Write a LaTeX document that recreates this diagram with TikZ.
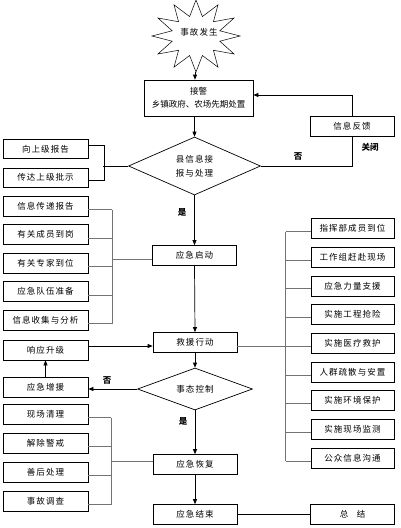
\documentclass[tikz,border=0pt]{standalone}
\usepackage{fontspec}
\newfontfamily\cjk{Noto Sans CJK SC}
\newfontfamily\cjkw[LetterSpace=12]{Noto Sans CJK SC}
\usetikzlibrary{shapes.geometric,arrows.meta}

\tikzset{
  box/.style={draw, minimum width=84pt, minimum height=20pt, inner sep=1pt,
    font=\cjkw\fontsize{8.5}{13}\selectfont},
  dia/.style={draw, diamond, inner sep=0pt, aspect=2.3,
    font=\cjkw\fontsize{8.5}{14}\selectfont},
  arr/.style={-{Triangle[length=5pt,width=4pt]}},
  bus/.style={draw=black!55, line width=1pt},
  lab/.style={font=\cjk\bfseries\fontsize{8.5}{10}\selectfont}
}

\begin{document}
\begin{tikzpicture}[x=1pt, y=-1pt, line width=0.7pt]
  \useasboundingbox (0,0) rectangle (401,528);

  % star: accident
  \draw[line width=0.5pt] (196,72)
    \foreach \k [evaluate=\k as \r using {mod(\k,2)==0 ? 1 : 0.56}] in {1,...,23}
      { -- ({196+44*\r*cos(90+15*\k)}, {36+36*\r*sin(90+15*\k)}) } -- cycle;
  \node[font=\cjkw\fontsize{8.5}{10}\selectfont] (sg) at (199,32) {事故发生};
  \coordinate (sgb) at (195,72);

  % main column
  \node[box, minimum width=109pt, minimum height=36pt, align=center,
    font=\cjk\fontsize{8.5}{13}\selectfont] (jj) at (198.5,98)
    {接警\\乡镇政府、农场先期处置};
  \node[dia, minimum width=132pt, minimum height=58pt, align=center] (xx) at (194.5,166)
    {县信息接\\报与处理};
  \node[box] (qd) at (194.5,255.5) {应急启动};
  \node[box] (jy) at (195,342.5) {救援行动};
  \node[dia, minimum width=115pt, minimum height=42pt] (tk) at (195,389) {事态控制};
  \node[box] (hf) at (195,464.5) {应急恢复};
  \node[box] (js) at (195,514.5) {应急结束};
  \node[box] (zj) at (352.5,514.5) {总\quad 结};
  \node[box] (fk) at (352,126.5) {信息反馈};

  % left boxes
  \node[box, minimum width=85pt, minimum height=19pt] (a1) at (45.5,149) {向上级报告};
  \node[box, minimum width=85pt, minimum height=19pt] (a2) at (45.5,177.5) {传达上级批示};
  \foreach \t [count=\i] in {信息传递报告,有关成员到岗,有关专家到位,应急队伍准备,信息收集与分析}
    \node[box, minimum width=85pt] (b\i) at (45.5,{206+28.5*(\i-1)}) {\t};
  \node[box, minimum width=85pt] (sj) at (45.5,350) {响应升级};
  \node[box, minimum width=85pt] (zy) at (45.5,387) {应急增援};
  \foreach \t [count=\i] in {现场清理,解除警戒,善后处理,事故调查}
    \node[box, minimum width=85pt] (c\i) at (45.5,{414+29*(\i-1)}) {\t};

  % right boxes
  \foreach \t [count=\i] in {指挥部成员到位,工作组赶赴现场,应急力量支援,实施工程抢险,实施医疗救护,人群疏散与安置,实施环境保护,实施现场监测,公众信息沟通}
    \node[box, minimum width=83pt] (r\i) at (352.5,{228.5+28.7*(\i-1)}) {\t};

  % labels
  \node[lab] (l1) at (298,156) {否};
  \node[lab] (l2) at (370,147) {关闭};
  \node[lab] (l3) at (182,212) {是};
  \node[lab] (l4) at (107,380) {否};
  \node[lab] (l5) at (183,421) {是};

  % arrows of the main column
  \draw[arr] (sgb) -- (sgb |- jj.north);
  \draw[arr] (jj.south -| xx.north) -- (xx.north);
  \draw[arr] (xx.south) -- (qd.north);
  \draw[arr] (qd.south) -- (jy.north);
  \draw[arr] (jy.south) -- (tk.north);
  \draw[arr] (tk.south) -- (hf.north);
  \draw[arr] (hf.south) -- (js.north);
  \draw (js.east) -- (zj.west);

  % feedback loop
  \draw (xx.east) -| (fk.south);
  \draw[arr] (fk.north) |- ([yshift=3pt]jj.east);

  % escalation
  \draw[arr] (tk.west) -- (tk.west -| zy.east);
  \draw[arr] (zy.north) -- (sj.south);
  \coordinate (sjo) at ([yshift=-3.5pt]jy.west);
  \draw[arr] (sjo -| sj.east) -- (sjo);

  % bracket of a1, a2
  \draw ([yshift=4pt]a1.east) -- ++(16,0) |- ([yshift=-2.5pt]a2.east);
  \draw (xx.west) -- ++(-25,0);

  % bus of b boxes
  \foreach \i in {1,...,5}
    \draw[bus] ([yshift=-3.5pt]b\i.east) -- ++(24,0);
  \coordinate (bb1) at ([xshift=24pt, yshift=-3.5pt]b1.east);
  \coordinate (bb5) at ([xshift=24pt, yshift=-3.5pt]b5.east);
  \draw[bus] (bb1) -- (bb5);
  \draw[bus] ([yshift=-3.5pt]qd.west) -- ([yshift=-3.5pt]qd.west -| bb1);

  % bus of right boxes
  \foreach \i in {1,...,9}
    \draw[bus] ([yshift=-3pt]r\i.west) -- ++(-25,0);
  \coordinate (rr1) at ([xshift=-25pt, yshift=-3pt]r1.west);
  \coordinate (rr9) at ([xshift=-25pt, yshift=-3pt]r9.west);
  \draw[bus] (rr1) -- (rr9);
  \draw[bus] ([yshift=-3.5pt]jy.east) -- ([yshift=-3.5pt]jy.east -| rr1);

  % bus of c boxes
  \foreach \i in {1,...,4}
    \draw[bus] ([yshift=-3.5pt]c\i.east) -- ++(23,0);
  \coordinate (cc1) at ([xshift=23pt, yshift=-3.5pt]c1.east);
  \coordinate (cc4) at ([xshift=23pt, yshift=-3.5pt]c4.east);
  \draw[bus] (cc1) -- (cc4);
  \draw[bus] ([yshift=3.5pt]hf.west) -- ([yshift=3.5pt]hf.west -| cc1);
\end{tikzpicture}
\end{document}
